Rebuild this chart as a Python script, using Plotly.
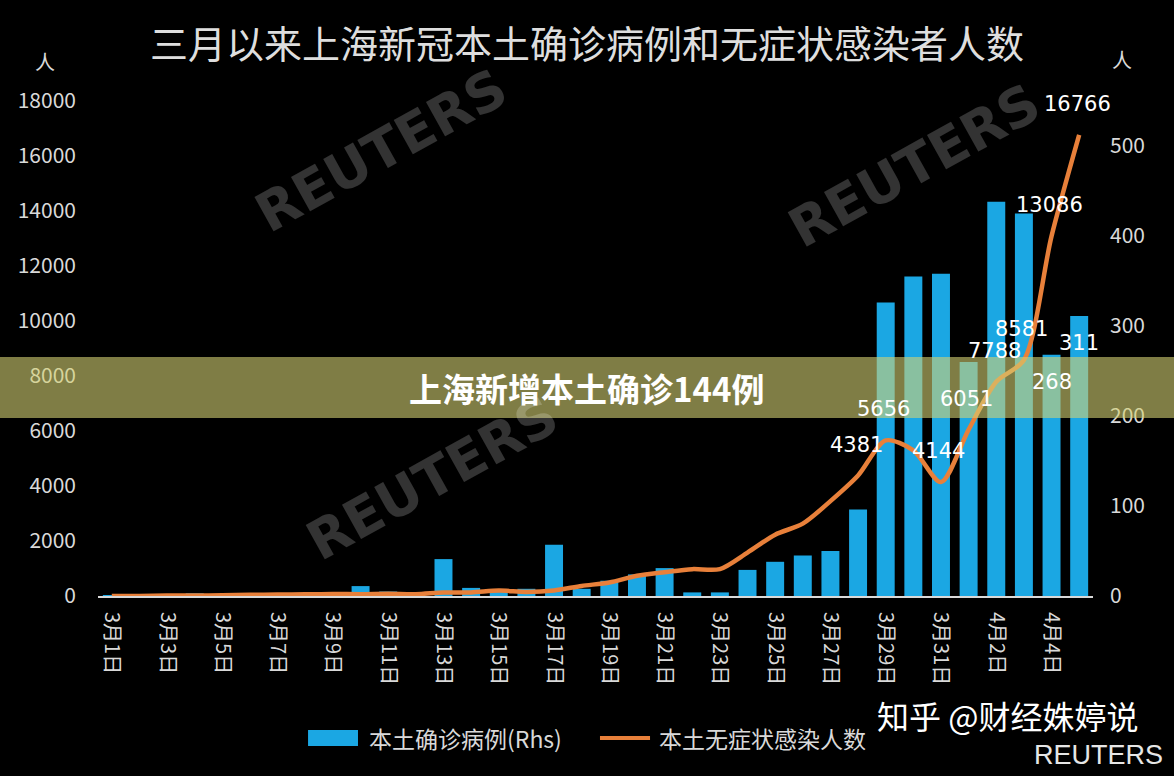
import plotly.graph_objects as go

# categories (one per day, 3/1 - 4/5)
days = ["3月1日", "3月2日", "3月3日", "3月4日", "3月5日", "3月6日", "3月7日", "3月8日",
        "3月9日", "3月10日", "3月11日", "3月12日", "3月13日", "3月14日", "3月15日", "3月16日",
        "3月17日", "3月18日", "3月19日", "3月20日", "3月21日", "3月22日", "3月23日", "3月24日",
        "3月25日", "3月26日", "3月27日", "3月28日", "3月29日", "3月30日", "3月31日",
        "4月1日", "4月2日", "4月3日", "4月4日", "4月5日"]

# local confirmed cases (bars, right axis)
confirmed = [1, 0, 2, 3, 0, 3, 0, 3, 4, 11, 5, 1, 41, 9, 5, 8, 57, 8, 17, 24, 31, 4, 4, 29,
             38, 45, 50, 96, 326, 355, 358, 260, 438, 425, 268, 311]

# local asymptomatic infections (line, left axis)
asymptomatic = [1, 1, 14, 16, 28, 45, 51, 62, 76, 64, 78, 64, 128, 130, 197, 150, 203, 366,
                492, 734, 865, 977, 979, 1580, 2231, 2631, 3450, 4381, 5656, 5298, 4144,
                6051, 7788, 8581, 13086, 16766]

tick_days = days[::2]
line_label_days = ["3月28日", "3月29日", "3月31日", "4月1日", "4月2日", "4月3日", "4月4日", "4月5日"]
bar_label_days = ["4月4日", "4月5日"]

bar_name = "本土确诊病例(Rhs)"
line_name = "本土无症状感染人数"

FONT = "Noto Sans CJK SC"
GREY = "#d9d9d9"
BLUE = "#1ba7e3"
ORANGE = "#e8803a"

fig = go.Figure()

fig.add_trace(go.Bar(
    x=days, y=confirmed,
    name=bar_name, showlegend=False,
    marker=dict(color=BLUE, line=dict(width=0)),
    yaxis="y",
))

fig.add_trace(go.Scatter(
    x=days, y=asymptomatic,
    name=line_name, showlegend=False,
    mode="lines",
    line=dict(color=ORANGE, width=4.5, shape="spline", smoothing=0.8),
    yaxis="y2",
))

annotations = []

# faint watermarks
for wx, wy in [(0.285, 0.90), (0.821, 0.87), (0.336, 0.238)]:
    annotations.append(dict(
        text="<b>REUTERS</b>", xref="paper", yref="paper", x=wx, y=wy,
        xanchor="center", yanchor="middle",
        showarrow=False, textangle=-29,
        font=dict(family="DejaVu Sans", size=54, color="rgba(255,255,255,0.2)"),
    ))

# line value labels
for d in line_label_days:
    annotations.append(dict(
        x=d, y=asymptomatic[days.index(d)], xref="x", yref="y2",
        text=str(asymptomatic[days.index(d)]), showarrow=False,
        yshift=31, xshift=-2,
        font=dict(family="DejaVu Sans", size=21, color="white"),
    ))

# bar value labels (inside end)
for d in bar_label_days:
    annotations.append(dict(
        x=d, y=confirmed[days.index(d)], xref="x", yref="y",
        text=str(confirmed[days.index(d)]), showarrow=False,
        yshift=-27,
        font=dict(family="DejaVu Sans", size=21, color="white"),
    ))

# axis unit labels
annotations += [
    dict(text="人", xref="paper", yref="paper", x=-0.0533, y=1.079, showarrow=False,
         xanchor="center", yanchor="middle",
         font=dict(family=FONT, size=20, color=GREY)),
    dict(text="人", xref="paper", yref="paper", x=1.029, y=1.083, showarrow=False,
         xanchor="center", yanchor="middle",
         font=dict(family=FONT, size=20, color=GREY)),
]

# legend (drawn by hand to get the wide swatches)
annotations += [
    dict(text=bar_name, xref="paper", yref="paper", x=0.2704, y=-0.287,
         xanchor="left", yanchor="middle", showarrow=False,
         font=dict(family=FONT, size=23, color=GREY)),
    dict(text=line_name, xref="paper", yref="paper", x=0.5618, y=-0.287,
         xanchor="left", yanchor="middle", showarrow=False,
         font=dict(family=FONT, size=23, color=GREY)),
]

# overlay banner text
annotations.append(dict(
    text="<b>上海新增本土确诊144例</b>", xref="paper", yref="paper", x=0.491, y=0.42,
    xanchor="center", yanchor="middle",
    showarrow=False, font=dict(family=FONT, size=33, color="white"),
))

# bottom right credits
annotations += [
    dict(text="知乎 @财经姝婷说", xref="paper", yref="paper", x=1.047, y=-0.24,
         showarrow=False, xanchor="right", yanchor="middle",
         font=dict(family=FONT, size=32, color="white")),
    dict(text="REUTERS", xref="paper", yref="paper", x=1.072, y=-0.322,
         showarrow=False, xanchor="right", yanchor="middle",
         font=dict(family="Liberation Sans", size=27, color="#e6e6e6")),
]

shapes = [
    # legend swatches
    dict(type="rect", xref="paper", yref="paper", x0=0.2111, x1=0.2613, y0=-0.303, y1=-0.2707,
         fillcolor=BLUE, line=dict(width=0)),
    dict(type="line", xref="paper", yref="paper", x0=0.5045, x1=0.5548, y0=-0.287, y1=-0.287,
         line=dict(color=ORANGE, width=4)),
    # semi-transparent banner across the middle
    dict(type="rect", xref="paper", yref="paper", x0=-0.2, x1=1.2, y0=0.3596, y1=0.4828,
         fillcolor="rgb(212,208,115)", opacity=0.6, line=dict(width=0), layer="above"),
]

fig.update_layout(
    width=1174, height=776,
    margin=dict(l=98, r=81, t=101, b=180),
    paper_bgcolor="black", plot_bgcolor="black",
    font=dict(family=FONT, color=GREY),
    title=dict(text="三月以来上海新冠本土确诊病例和无症状感染者人数",
               x=0.5, xanchor="center", y=0.942, yanchor="middle",
               font=dict(family=FONT, size=38, color="#dedede")),
    bargap=0.35,
    showlegend=False,
    xaxis=dict(
        type="category", range=[-0.5, 35.5], tickmode="array",
        tickvals=tick_days, ticktext=tick_days,
        tickangle=90, tickfont=dict(family=FONT, size=20, color=GREY),
        showgrid=False, zeroline=False, showline=True, linecolor=GREY, linewidth=2,
        ticks="", ticklabelstandoff=10, anchor="y",
    ),
    yaxis=dict(
        side="right", range=[0, 550], tickvals=[0, 100, 200, 300, 400, 500],
        showgrid=False, zeroline=False, showline=False, ticks="",
        tickfont=dict(family=FONT, size=21, color=GREY), ticklabelstandoff=16,
    ),
    yaxis2=dict(
        side="left", overlaying="y", range=[0, 18000], dtick=2000, tickformat="d",
        showgrid=False, zeroline=False, showline=False, ticks="",
        tickfont=dict(family=FONT, size=21, color=GREY), ticklabelstandoff=21,
    ),
    shapes=shapes,
    annotations=annotations,
)

fig.write_html("out.html", config={"displayModeBar": False},
               post_script="document.body.style.margin='0';document.body.style.background='black';")
